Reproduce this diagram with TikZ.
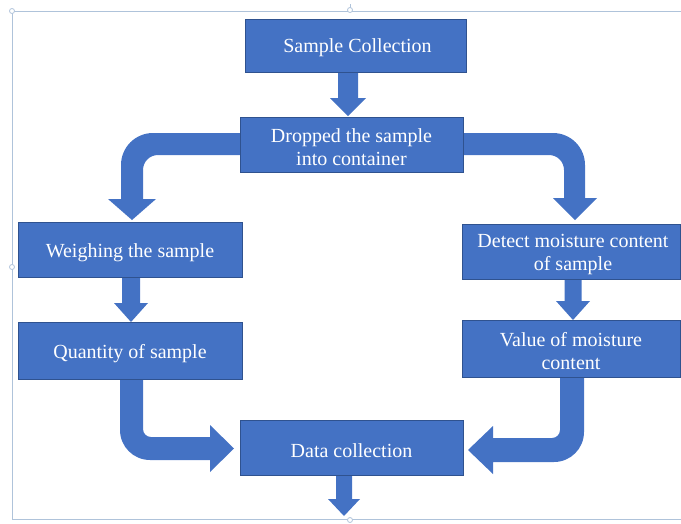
\documentclass[tikz,border=0pt]{standalone}
\usepackage{fontspec}
\setmainfont{Liberation Serif}
\definecolor{boxblue}{HTML}{4472C4}
\definecolor{edgeblue}{HTML}{2F528F}
\definecolor{framec}{HTML}{AFC3DA}
\tikzset{
  stepbox/.style={rectangle, fill=boxblue, draw=edgeblue, line width=0.6pt, inner sep=0pt},
  steptext/.style={text=white, font=\fontsize{20}{23}\selectfont, align=center, inner sep=0pt},
  blockarrow/.style={fill=boxblue, draw=none},
  framepen/.style={draw=framec, line width=0.8pt},
}
\newcommand\blockdown[6]{%
  \fill[blockarrow] ({#1-#5},#2) -- ({#1+#5},#2) -- ({#1+#5},#3) -- ({#1+#6},#3)
    -- (#1,#4) -- ({#1-#6},#3) -- ({#1-#5},#3) -- cycle;}
\begin{document}
\begin{tikzpicture}[x=1pt,y=-1pt]
\useasboundingbox (0,0) rectangle (681,523);
% frame
\draw[framepen] (681,11) -- (12,11) -- (12,519) -- (681,519);
\draw[framepen] (350,4) -- (350,9);
\foreach \p in {(12,11),(350,10),(12,267),(350,520)}
  \draw[framepen, fill=white] \p circle (2.5);

% straight arrows
\blockdown{348}{72}{98}{116}{10}{18}
\blockdown{131}{277}{303}{322}{9}{17}
\blockdown{573}{279}{301}{320}{8.5}{17}
\blockdown{344}{475}{499}{516}{8}{16}

% curved arrow: dropped -> weighing
\fill[blockarrow] (240,133) -- (153,133) .. controls (135.3,133) and (121,147.3) .. (121,165)
  -- (121,199) -- (108,199) -- (132,220) -- (156,199) -- (143,199) -- (143,170)
  .. controls (143,161.7) and (149.7,155) .. (158,155) -- (240,155) -- cycle;
% curved arrow: dropped -> detect
\fill[blockarrow] (463,133) -- (553,133) .. controls (570.7,133) and (585,147.3) .. (585,165)
  -- (585,198) -- (597,198) -- (575,220) -- (553,198) -- (564,198) -- (564,170)
  .. controls (564,161.7) and (557.3,155) .. (549,155) -- (463,155) -- cycle;
% curved arrow: quantity -> data
\fill[blockarrow] (120,379) -- (120,430) .. controls (120,446.6) and (133.4,460) .. (150,460)
  -- (210,460) -- (210,472) -- (234,448.5) -- (210,425) -- (210,437) -- (151,437)
  .. controls (146.6,437) and (143,433.4) .. (143,429) -- (143,379) -- cycle;
% curved arrow: value -> data
\fill[blockarrow] (584,377) -- (584,432) .. controls (584,448.6) and (570.6,462) .. (554,462)
  -- (493,462) -- (493,474) -- (468,450) -- (493,426) -- (493,438) -- (552,438)
  .. controls (556.4,438) and (560,434.4) .. (560,430) -- (560,377) -- cycle;

% boxes
\node[stepbox, minimum width=221pt, minimum height=53pt] (sc) at (355.5,45.5) {};
\node[stepbox, minimum width=223pt, minimum height=55pt] (dr) at (351.5,144.5) {};
\node[stepbox, minimum width=224pt, minimum height=55pt] (wg) at (130,249.5) {};
\node[stepbox, minimum width=224pt, minimum height=57pt] (qt) at (130,350.5) {};
\node[stepbox, minimum width=218pt, minimum height=55pt] (dt) at (571,251.5) {};
\node[stepbox, minimum width=218pt, minimum height=57pt] (vl) at (571,348.5) {};
\node[stepbox, minimum width=223pt, minimum height=55pt] (dc) at (351.5,447.5) {};
% texts
\node[steptext] (sct) at ([xshift=2pt,yshift=-2pt]sc.center) {Sample Collection};
\node[steptext] (drt) at ([yshift=-3pt]dr.center) {Dropped the sample\\into container};
\node[steptext] (wgt) at ([yshift=-3pt]wg.center) {Weighing the sample};
\node[steptext] (qtt) at ([yshift=-3pt]qt.center) {Quantity of sample};
\node[steptext] (dtt) at ([xshift=2pt,yshift=-3pt]dt.center) {Detect moisture content\\of sample};
\node[steptext] (vlt) at ([yshift=-3pt]vl.center) {Value of moisture\\content};
\node[steptext] (dct) at ([yshift=-3pt]dc.center) {Data collection};
\end{tikzpicture}
\end{document}
